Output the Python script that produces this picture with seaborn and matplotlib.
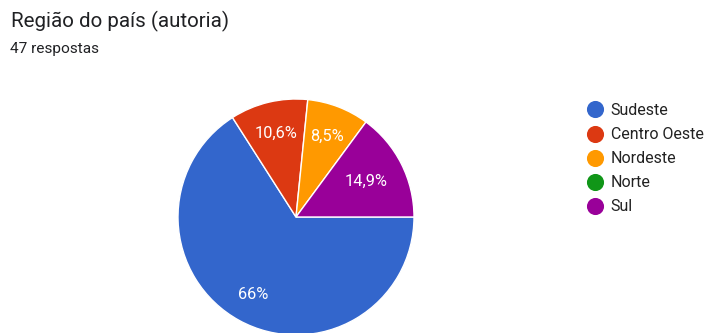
import matplotlib
matplotlib.use("Agg")
import numpy as np
import matplotlib.pyplot as plt
from matplotlib.lines import Line2D
import seaborn as sns

# Respostas por região
regioes = ["Sudeste", "Centro Oeste", "Nordeste", "Norte", "Sul"]
respostas = [31, 5, 4, 0, 7]
cores = ["#3366cc", "#dc3912", "#ff9900", "#109618", "#990099"]

titulo = "Região do país (autoria)"
subtitulo = "47 respostas"

sns.set_theme(style="white")
plt.rcParams["font.family"] = ["Roboto", "DejaVu Sans"]

fig = plt.figure(figsize=(7.04, 3.33), dpi=100)
fig.patch.set_facecolor("white")

W, H = 704, 333
cx, cy, r = 296, 217, 118
ax = fig.add_axes([(cx - r) / W, (H - cy - r) / H, 2 * r / W, 2 * r / H])


def rotulo(pct):
    txt = f"{pct:.1f}".replace(".", ",")
    if txt.endswith(",0"):
        txt = txt[:-2]
    return txt + "%"


# fatias com valor zero não entram no desenho, mas ficam na legenda
vals = [v for v in respostas if v > 0]
cols = [c for v, c in zip(respostas, cores) if v > 0]

wedges, texts, autotexts = ax.pie(
    vals,
    colors=cols,
    startangle=0,
    counterclock=False,
    autopct=rotulo,
    pctdistance=0.73,
    wedgeprops=dict(edgecolor="white", linewidth=1.0),
    textprops=dict(color="white", fontsize=11.8),
)

# distância radial de cada rótulo, para caber dentro da fatia
dist_rotulo = [0.75, 0.73, 0.735, 0.67]
for w, t, d in zip(wedges, autotexts, dist_rotulo):
    ang = np.deg2rad((w.theta1 + w.theta2) / 2)
    t.set_position((d * np.cos(ang), d * np.sin(ang)))

for w in wedges:
    w.set_clip_on(False)
ax.set_xlim(-1, 1)
ax.set_ylim(-1, 1)
ax.set_axis_off()

fig.text(11 / W, 1 - 21 / H, titulo, fontsize=14.8, color="#202124", va="center", ha="left")
fig.text(10 / W, 1 - 49 / H, subtitulo, fontsize=11.1, color="#202124", va="center", ha="left")

handles = [
    Line2D([0], [0], marker="o", linestyle="none", markersize=11.3,
           markerfacecolor=c, markeredgecolor=c)
    for c in cores
]
leg = fig.legend(
    handles, regioes,
    loc="upper left",
    bbox_to_anchor=(587.5 / W, 1 - 103 / H),
    frameon=False,
    fontsize=11.5,
    handlelength=1.0,
    handletextpad=0.45,
    labelspacing=0.57,
    borderaxespad=0,
    borderpad=0,
)
for t in leg.get_texts():
    t.set_color("#222222")

fig.savefig("out.png", dpi=100, facecolor="white")
